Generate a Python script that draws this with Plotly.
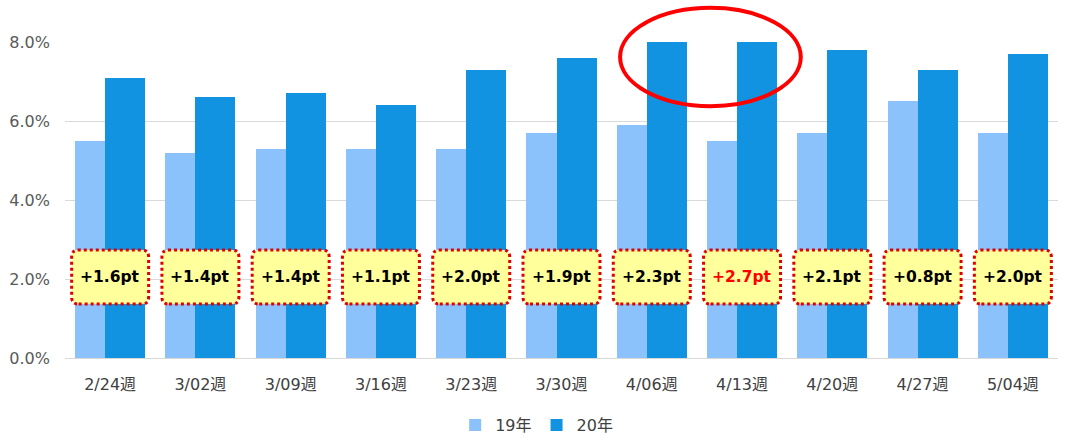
import plotly.graph_objects as go

# ---- data ----
WEEKS = ["2/24週", "3/02週", "3/09週", "3/16週", "3/23週", "3/30週",
         "4/06週", "4/13週", "4/20週", "4/27週", "5/04週"]
Y2019 = [5.5, 5.2, 5.3, 5.3, 5.3, 5.7, 5.9, 5.5, 5.7, 6.5, 5.7]
Y2020 = [7.1, 6.6, 6.7, 6.4, 7.3, 7.6, 8.2, 8.2, 7.8, 7.3, 7.7]
DIFF_LABELS = ["+1.6pt", "+1.4pt", "+1.4pt", "+1.1pt", "+2.0pt", "+1.9pt",
               "+2.3pt", "+2.7pt", "+2.1pt", "+0.8pt", "+2.0pt"]
DIFF_VALUES = [1.6, 1.4, 1.4, 1.1, 2.0, 1.9, 2.3, 2.7, 2.1, 0.8, 2.0]
SERIES_NAMES = ["19年", "20年"]
Y_TICKS = [0, 2, 4, 6, 8]
Y_TICK_LABELS = ["0.0%", "2.0%", "4.0%", "6.0%", "8.0%"]
LABEL_Y = 2.05

# ---- style ----
C_LIGHT = "#8cc2fc"
C_DARK = "#1193e2"
FONT = "DejaVu Sans, Noto Sans CJK JP, sans-serif"
BAR_W = 0.443

x_idx = list(range(len(WEEKS)))

fig = go.Figure()
fig.add_trace(go.Bar(x=x_idx, y=Y2019, name=SERIES_NAMES[0], marker_color=C_LIGHT,
                     width=BAR_W, offset=-0.388, marker_line_width=0))
fig.add_trace(go.Bar(x=x_idx, y=Y2020, name=SERIES_NAMES[1], marker_color=C_DARK,
                     width=BAR_W, offset=-0.055, marker_line_width=0))

hw, hh, r = 38.5, 27, 7
box_path = (f"M {-hw+r},{-hh} L {hw-r},{-hh} Q {hw},{-hh} {hw},{-hh+r} "
            f"L {hw},{hh-r} Q {hw},{hh} {hw-r},{hh} L {-hw+r},{hh} "
            f"Q {-hw},{hh} {-hw},{hh-r} L {-hw},{-hh+r} Q {-hw},{-hh} {-hw+r},{-hh} Z")

max_diff = max(DIFF_VALUES)
shapes = []
annotations = []
for i, (lab, d) in enumerate(zip(DIFF_LABELS, DIFF_VALUES)):
    shapes.append(dict(type="path", xref="x", yref="y", xsizemode="pixel", ysizemode="pixel",
                       xanchor=i, yanchor=LABEL_Y, path=box_path,
                       fillcolor="#ffff9c", line=dict(color="#e00000", width=3, dash="dot"),
                       layer="above"))
    annotations.append(dict(x=i, y=LABEL_Y, xref="x", yref="y", text=f"<b>{lab}</b>",
                            showarrow=False,
                            font=dict(family=FONT, size=15.5,
                                      color="#ff0000" if d == max_diff else "#000000")))

# highlight ellipse around the two tallest weeks
shapes.append(dict(type="circle", xref="paper", yref="paper",
                   x0=0.559, x1=0.741, y0=0.797, y1=1.108,
                   line=dict(color="#ff0000", width=4), fillcolor="rgba(0,0,0,0)"))

fig.update_layout(
    barmode="overlay",
    width=1065, height=438,
    margin=dict(l=65, r=7, t=42, b=80, autoexpand=False),
    plot_bgcolor="white", paper_bgcolor="white",
    font=dict(family=FONT, size=16, color="#404040"),
    shapes=shapes,
    annotations=annotations,
    showlegend=True,
    legend=dict(orientation="h", x=0.475, y=-0.212, xanchor="center", yanchor="middle",
                font=dict(family=FONT, size=16, color="#404040"),
                itemwidth=30, tracegroupgap=0),
    bargap=0,
)
fig.update_xaxes(tickmode="array", tickvals=x_idx, ticktext=WEEKS, range=[-0.5, len(WEEKS) - 0.5],
                 showgrid=False, showline=True, linecolor="#d9d9d9", linewidth=1,
                 ticks="", ticklabelstandoff=12, tickfont=dict(size=16, color="#404040"),
                 zeroline=False, automargin=False)
fig.update_yaxes(range=[0, 8], tickmode="array", tickvals=Y_TICKS, ticktext=Y_TICK_LABELS,
                 showgrid=True, gridcolor="#d9d9d9", gridwidth=1, zeroline=False,
                 showline=False, ticks="", ticklabelstandoff=14, automargin=False,
                 tickfont=dict(size=16, color="#595959"))

fig.write_html("out.html", config={"displayModeBar": False},
               post_script="document.body.style.margin='0';document.body.style.padding='0';")
